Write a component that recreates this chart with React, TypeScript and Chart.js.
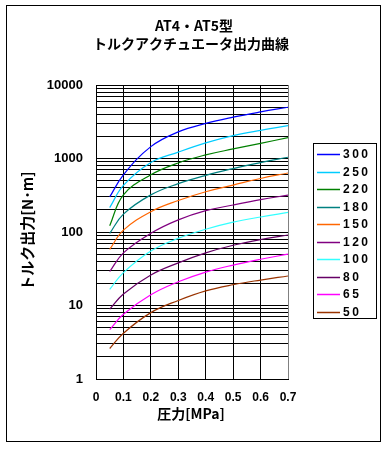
import React, { useEffect, useRef } from "react";
import { Chart, registerables } from "chart.js";

Chart.register(...registerables);

// ---- data ----
const pressures = [0.05, 0.1, 0.2, 0.3, 0.4, 0.5, 0.6, 0.7];
const seriesNames = ["300", "250", "220", "180", "150", "120", "100", "80", "65", "50"];
const t300 = [300, 600, 1450, 2300, 3000, 3650, 4300, 4980];
const t250 = [215, 430, 880, 1220, 1630, 2050, 2420, 2800];
const t220 = [122, 320, 600, 870, 1120, 1350, 1610, 1920];
const t180 = [96, 175, 320, 455, 590, 730, 880, 1040];
const t150 = [58, 106, 189, 268, 353, 435, 535, 635];
const t120 = [29, 52, 96, 146, 195, 233, 275, 318];
const t100 = [16.6, 28, 55, 82, 109, 136, 160, 185];
const t80 = [8.9, 14.3, 26, 38, 52, 66, 79, 91];
const t65 = [4.7, 7.6, 14, 21, 28.5, 35.5, 42.6, 50];
const t50 = [2.6, 4.2, 8.0, 11.7, 15.8, 19.2, 22.2, 25.2];
const seriesValues = [t300, t250, t220, t180, t150, t120, t100, t80, t65, t50];
const seriesColors = [
  "#0000FF", "#00CCFF", "#008000", "#008080", "#FF6600",
  "#800080", "#33FFFF", "#660066", "#FF00FF", "#993300",
];

const xTicks = [0, 0.1, 0.2, 0.3, 0.4, 0.5, 0.6, 0.7];
const xTickLabels = ["0", "0.1", "0.2", "0.3", "0.4", "0.5", "0.6", "0.7"];
const yMajorTicks = [1, 10, 100, 1000, 10000];
const yMajorLabels = ["1", "10", "100", "1000", "10000"];
const yMinorSteps = [2, 3, 4, 5, 6, 7, 8, 9];

const titleLines = ["AT4・AT5型", "トルクアクチュエータ出力曲線"];
const yTitle = "トルク出力[N･m]";
const xTitle = "圧力[MPa]";

const CJK = '"Noto Sans CJK JP", sans-serif';
const LATIN = '"Liberation Sans", Arial, sans-serif';

function buildYTicks() {
  const out: { value: number }[] = [];
  yMajorTicks.forEach((m, i) => {
    out.push({ value: m });
    if (i < yMajorTicks.length - 1) yMinorSteps.forEach((s) => out.push({ value: m * s }));
  });
  return out;
}

const decorPlugin = {
  id: "decor",
  afterDraw(chart: any) {
    const ctx = chart.ctx as CanvasRenderingContext2D;
    ctx.save();
    // outer frame
    ctx.strokeStyle = "#000";
    ctx.lineWidth = 1;
    ctx.strokeRect(6.5, 5.5, 374, 436);

    ctx.fillStyle = "#000";
    ctx.textAlign = "center";
    ctx.textBaseline = "middle";
    ctx.font = `bold 14px ${CJK}`;
    ctx.fillText(titleLines[0], 194, 26);
    ctx.fillText(titleLines[1], 191, 44);

    ctx.font = `bold 14px ${CJK}`;
    ctx.fillText(xTitle, 191, 414);

    ctx.save();
    ctx.translate(27, 231);
    ctx.rotate(-Math.PI / 2);
    ctx.font = `bold 15px ${CJK}`;
    ctx.fillText(yTitle, 0, 0);
    ctx.restore();

    // legend
    ctx.strokeStyle = "#000";
    ctx.lineWidth = 1;
    ctx.strokeRect(313.5, 143.5, 63, 175);
    ctx.textAlign = "left";
    ctx.font = `bold 12px ${LATIN}`;
    (ctx as any).letterSpacing = "2.5px";
    seriesNames.forEach((name, i) => {
      const y = Math.round(154 + i * 17.5) + 0.5;
      ctx.strokeStyle = seriesColors[i];
      ctx.lineWidth = 1.5;
      ctx.beginPath();
      ctx.moveTo(317, y);
      ctx.lineTo(340, y);
      ctx.stroke();
      ctx.fillStyle = "#000";
      ctx.fillText(name, 343, y + 0.5);
    });
    ctx.restore();
  },
};

export default function App() {
  const ref = useRef<HTMLCanvasElement | null>(null);

  useEffect(() => {
    if (!ref.current) return;
    const chart = new Chart(ref.current, {
      type: "line",
      data: {
        datasets: seriesNames.map((name, i) => ({
          label: name,
          data: pressures.map((p, j) => ({ x: p, y: seriesValues[i][j] })),
          borderColor: seriesColors[i],
          backgroundColor: seriesColors[i],
          borderWidth: 1.2,
          pointRadius: 0,
          fill: false,
          tension: 0.4,
        })),
      },
      options: {
        animation: false,
        responsive: false,
        devicePixelRatio: 1,
        layout: { padding: { left: 0, right: 97, top: 85, bottom: 0 } },
        plugins: {
          legend: { display: false },
          tooltip: { enabled: false },
          title: { display: false },
        },
        scales: {
          x: {
            type: "linear",
            min: 0,
            max: 0.7,
            afterBuildTicks: (scale: any) => {
              scale.ticks = xTicks.map((v) => ({ value: v }));
            },
            afterFit: (scale: any) => {
              scale.height = 70;
            },
            ticks: {
              autoSkip: false,
              maxRotation: 0,
              padding: 11,
              color: "#000",
              font: { family: LATIN, size: 12, weight: "bold" },
              callback: (v: any) => {
                const idx = xTicks.findIndex((t) => Math.abs(t - Number(v)) < 1e-9);
                return idx >= 0 ? xTickLabels[idx] : "";
              },
            },
            grid: {
              drawTicks: false,
              lineWidth: 1,
              color: (c: any) => (c.tick && Math.abs(c.tick.value - 0.7) < 1e-9 ? "#808080" : "#000"),
            },
            border: { display: true, color: "#000", width: 1 },
          },
          y: {
            type: "logarithmic",
            min: 1,
            max: 10000,
            afterBuildTicks: (scale: any) => {
              scale.ticks = buildYTicks();
            },
            afterFit: (scale: any) => {
              scale.width = 96;
            },
            ticks: {
              autoSkip: false,
              padding: 13,
              color: "#000",
              font: { family: LATIN, size: 13, weight: "bold" },
              callback: (v: any) => {
                const idx = yMajorTicks.indexOf(Number(v));
                return idx >= 0 ? yMajorLabels[idx] : "";
              },
            },
            grid: { drawTicks: false, lineWidth: 1, color: "#000" },
            border: { display: true, color: "#000", width: 1 },
          },
        },
      },
      plugins: [decorPlugin],
    } as any);
    return () => chart.destroy();
  }, []);

  return (
    <div style={{ position: "fixed", left: 0, top: 0, width: 385, height: 449, background: "#fff" }}>
      <canvas ref={ref} width={385} height={449} style={{ display: "block" }} />
    </div>
  );
}
